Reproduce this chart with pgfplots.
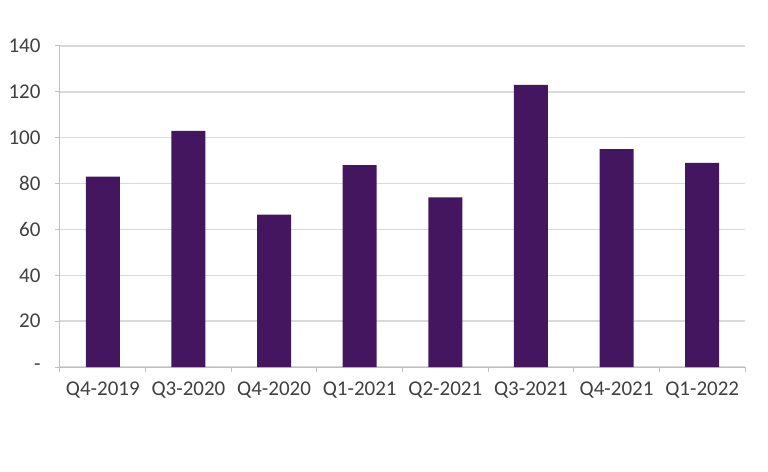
\documentclass[border=0pt]{standalone}
\usepackage{pgfplots}
\pgfplotsset{compat=1.18}
\usepackage{fontspec}
\setmainfont{Carlito}
\definecolor{barpurple}{RGB}{69,22,96}
\definecolor{gridgray}{RGB}{217,217,217}
\definecolor{axisgray}{RGB}{191,191,191}
\definecolor{txtgray}{RGB}{64,64,64}
\begin{document}
\begin{tikzpicture}
\path[use as bounding box] (-60pt,-104pt) rectangle (708pt,367pt);
\begin{axis}[
  at={(0pt,0pt)}, anchor=south west,
  scale only axis, width=685pt, height=321pt,
  xmin=-0.5, xmax=7.5, ymin=0, ymax=140,
  axis x line*=bottom, axis y line*=left,
  axis line style={axisgray, line width=1pt},
  ytick={0,20,40,60,80,100,120,140},
  yticklabels={-,20,40,60,80,100,120,140},
  xtick={0,1,2,3,4,5,6,7},
  xticklabels={Q4-2019,Q3-2020,Q4-2020,Q1-2021,Q2-2021,Q3-2021,Q4-2021,Q1-2022},
  minor xtick={-0.5,0.5,1.5,2.5,3.5,4.5,5.5,6.5,7.5},
  major x tick style={draw=none},
  minor x tick style={axisgray, line width=1pt},
  y tick style={axisgray, line width=1pt},
  tick align=outside,
  major tick length=5pt, minor tick length=5pt,
  ymajorgrids, grid style={gridgray, line width=1.5pt},
  tick label style={font=\fontsize{21}{24}\selectfont, text=txtgray},
  yticklabel style={xshift=-11pt},
  xticklabel style={yshift=-6pt},
  /pgf/number format/assume math mode=true,
  ybar, bar width=34pt,
]
\addplot[fill=barpurple, draw=none] coordinates {
  (0,83) (1,103) (2,66.5) (3,88) (4,74) (5,123) (6,95) (7,89)
};
\end{axis}
\end{tikzpicture}
\end{document}
